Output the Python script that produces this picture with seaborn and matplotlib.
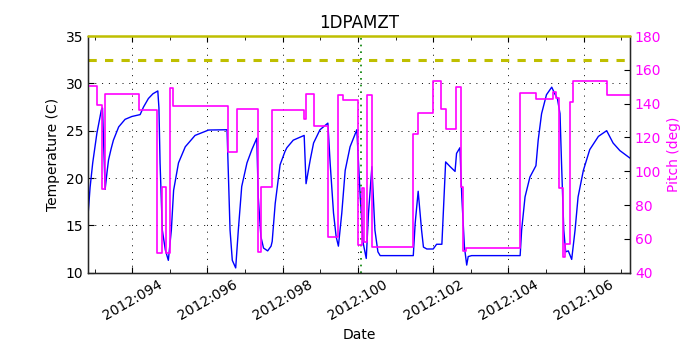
import numpy as np
import pandas as pd
import matplotlib
matplotlib.use('Agg')
import matplotlib.pyplot as plt
import seaborn as sns

# day of year 2012 (fractional) and 1DPAMZT temperature in C
temp_day = [92.83, 92.88, 92.95, 93.06, 93.18, 93.21, 93.28, 93.33, 93.37, 93.44,
            93.50, 93.64, 93.81, 93.99, 94.21, 94.30, 94.43, 94.55, 94.68, 94.71,
            94.74, 94.80, 94.88, 94.96, 95.04, 95.10, 95.23, 95.41, 95.67, 96.03,
            96.52, 96.56, 96.60, 96.66, 96.75, 96.82, 96.91, 97.05, 97.18, 97.31,
            97.35, 97.42, 97.49, 97.60, 97.69, 97.72, 97.80, 97.93, 98.06, 98.11,
            98.28, 98.57, 98.62, 98.73, 98.82, 98.99, 99.20, 99.26, 99.35, 99.42,
            99.48, 99.57, 99.66, 99.79, 99.97, 100.06, 100.14, 100.22, 100.28, 100.37,
            100.45, 100.53, 100.59, 101.47, 101.52, 101.60, 101.69, 101.74, 101.83, 102.00,
            102.09, 102.23, 102.33, 102.45, 102.58, 102.62, 102.71, 102.76, 102.83, 102.89,
            102.93, 103.02, 104.31, 104.35, 104.44, 104.57, 104.73, 104.79, 104.88, 105.01,
            105.15, 105.23, 105.30, 105.37, 105.41, 105.47, 105.52, 105.59, 105.68, 105.77,
            105.85, 105.99, 106.16, 106.39, 106.61, 106.78, 106.96, 107.23]
temp_val = [16.3, 19.0, 21.6, 24.7, 27.2, 27.4, 18.8, 20.6, 21.9, 23.1,
            24.0, 25.4, 26.2, 26.5, 26.7, 27.5, 28.4, 28.9, 29.2, 27.4,
            21.6, 14.5, 12.4, 11.3, 14.5, 18.7, 21.6, 23.3, 24.5, 25.07,
            25.1, 19.8, 14.5, 11.3, 10.5, 14.5, 19.1, 21.6, 23.0, 24.2,
            18.0, 13.8, 12.6, 12.3, 12.8, 13.3, 17.3, 21.4, 22.8, 23.2,
            24.0, 24.5, 19.4, 21.9, 23.7, 25.1, 25.8, 21.6, 16.3, 13.8,
            12.8, 16.3, 20.8, 23.3, 25.1, 18.0, 13.1, 11.5, 16.3, 21.2,
            14.5, 12.2, 11.8, 11.8, 15.2, 18.6, 14.5, 12.7, 12.5, 12.5,
            13.0, 13.0, 21.7, 21.2, 20.7, 22.6, 23.2, 18.0, 12.7, 10.8,
            11.7, 11.8, 11.8, 14.5, 18.0, 20.1, 21.3, 24.0, 26.8, 28.8,
            29.6, 28.9, 28.4, 26.8, 21.6, 14.5, 12.2, 12.3, 11.4, 14.5,
            18.0, 20.8, 23.0, 24.4, 25.0, 23.7, 22.9, 22.1]

# pitch steps: start day and value in deg
pitch_day = [92.83, 93.06, 93.21, 93.27, 94.17, 94.66, 94.79, 94.90, 95.01, 95.08,
             96.54, 96.78, 97.33, 97.43, 97.71, 98.57, 98.63, 98.82, 99.20, 99.48,
             99.61, 99.99, 100.10, 100.17, 100.23, 100.37, 101.46, 101.60, 102.00, 102.21,
             102.34, 102.61, 102.73, 102.80, 102.87, 104.31, 104.73, 105.19, 105.25, 105.35,
             105.44, 105.50, 105.63, 105.72, 106.62, 107.23]
pitch_val = [150.4, 139.2, 89.3, 145.7, 136.2, 51.5, 90.9, 51.5, 149.1, 138.6,
             111.6, 137.0, 52.4, 90.5, 136.2, 130.7, 145.5, 126.8, 60.9, 145.1,
             142.1, 56.4, 89.9, 58.0, 145.1, 55.0, 121.8, 134.3, 153.6, 136.6,
             124.8, 150.0, 90.9, 53.0, 54.4, 146.5, 142.5, 147.1, 143.1, 89.9,
             49.4, 56.8, 141.1, 153.6, 145.1, 145.1]

planning_limit = 32.5
caution_limit = 35.0
now_day = 100.08

sns.set_style('white')
plt.rcParams['font.family'] = ['DejaVu Sans']
plt.rcParams['xtick.direction'] = 'in'
plt.rcParams['ytick.direction'] = 'in'
for k in ['text.color', 'axes.labelcolor', 'xtick.color', 'ytick.color']:
    plt.rcParams[k] = 'k'

fig = plt.figure(figsize=(7, 3.5), dpi=100)
ax = fig.add_axes([0.126, 0.221, 0.774, 0.676])

sns.lineplot(x=temp_day, y=temp_val, color='b', linewidth=1, ax=ax, estimator=None)
ax.axhline(planning_limit, color='y', linestyle='--', linewidth=2.2, dashes=(2.7, 2.7))
ax.axvline(now_day, color='g', linestyle=(0, (1, 3)), linewidth=1.2)

ax.set_xlim(92.83, 107.23)
ax.set_ylim(10, 35)
ax.set_xticks(np.arange(94, 107, 2))
ax.set_xticks(np.arange(93, 108, 1), minor=True)
ax.set_xticklabels(['2012:%03d' % d for d in range(94, 107, 2)], rotation=30, ha='center')
ax.set_yticks(np.arange(10, 36, 5))
ax.tick_params(axis='both', which='both', top=True, bottom=True, left=True, labelsize=10)
ax.tick_params(axis='both', which='major', length=4)
ax.tick_params(axis='x', which='minor', length=3)
ax.grid(True, which='major', color='k', linestyle=(0, (1, 6)), linewidth=0.7)
ax.set_xlabel('Date', fontsize=10)
ax.set_ylabel('Temperature (C)', fontsize=10)
ax.set_title('1DPAMZT', fontsize=12)
for s in ax.spines.values():
    s.set_color('k')
    s.set_linewidth(1)

ax2 = ax.twinx()
sns.lineplot(x=pitch_day, y=pitch_val, color='#ff00ff', linewidth=1.2, ax=ax2,
             estimator=None, drawstyle='steps-post')
ax2.set_ylim(40, 180)
ax2.set_yticks(np.arange(40, 181, 20))
ax2.tick_params(axis='y', colors='#ff00ff', labelsize=10, length=4, direction='in')
ax2.tick_params(axis='y', color='k')
ax2.set_ylabel('Pitch (deg)', color='#ff00ff', fontsize=10)
ax2.grid(False)

# caution limit sits on the top edge, drawn over the frame
ax.spines['top'].set_visible(False)
ax2.spines['top'].set_visible(False)
ax2.axhline(180, color='y', linewidth=1.8, clip_on=False, zorder=5)

fig.savefig('out.png', dpi=100, facecolor='white')
